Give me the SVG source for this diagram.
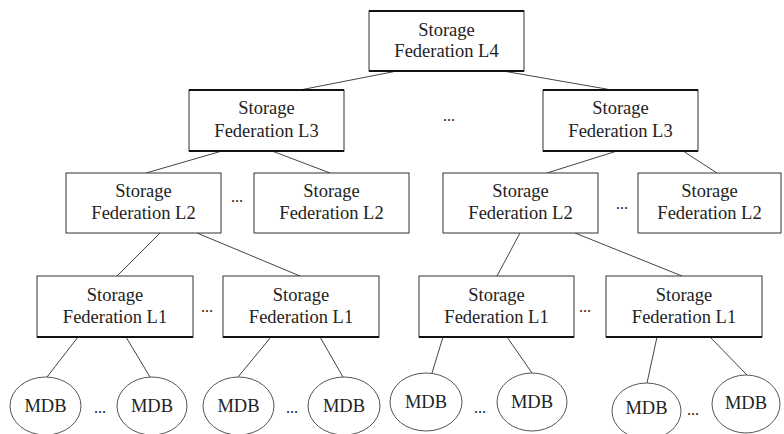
<svg xmlns="http://www.w3.org/2000/svg" width="784" height="434" viewBox="0 0 784 434">
<style>
.box{fill:#fff;stroke:#333;stroke-width:1}
.edge{stroke:#111;stroke-width:2}
.db{fill:#fff;stroke:#555;stroke-width:1}
.t{font-family:'Liberation Serif','Times New Roman',Tinos,'DejaVu Serif',serif;font-size:18.5px;fill:#222;text-anchor:middle}
.dots{font-family:'Liberation Serif','Times New Roman',Tinos,'DejaVu Serif',serif;font-size:16px;fill:#222;text-anchor:middle}
.c line{stroke:#444;stroke-width:1}
</style>
<rect width="784" height="434" fill="#fff"/>
<g class="c" id="connectors">
<line x1="397" y1="71" x2="300" y2="90"/>
<line x1="503" y1="71" x2="612" y2="90"/>
<line x1="222" y1="151" x2="146" y2="173"/>
<line x1="272" y1="151" x2="330" y2="173"/>
<line x1="617" y1="151" x2="547" y2="173"/>
<line x1="683" y1="151" x2="717" y2="173"/>
<line x1="160" y1="233" x2="117" y2="276"/>
<line x1="197" y1="233" x2="300" y2="276"/>
<line x1="520" y1="233" x2="497" y2="276"/>
<line x1="575" y1="233" x2="682" y2="276"/>
<line x1="78" y1="337" x2="47" y2="377"/>
<line x1="126" y1="337" x2="150" y2="377"/>
<line x1="271" y1="337" x2="238" y2="377"/>
<line x1="320" y1="337" x2="343" y2="377"/>
<line x1="443" y1="337" x2="432" y2="373"/>
<line x1="507" y1="337" x2="532" y2="373"/>
<line x1="657" y1="337" x2="647" y2="383"/>
<line x1="710" y1="337" x2="747" y2="375"/>
</g>
<g id="l4">
<rect class="box" x="369" y="11" width="155" height="60"/>
<line class="edge" x1="369" y1="11" x2="524" y2="11"/><line class="edge" x1="369" y1="71" x2="524" y2="71"/>
<text class="t" x="446.5" y="36">Storage</text><text class="t" x="446.5" y="57">Federation L4</text>
</g>
<g id="l3a">
<rect class="box" x="189" y="90" width="155" height="61"/>
<line class="edge" x1="189" y1="90" x2="344" y2="90"/><line class="edge" x1="189" y1="151" x2="344" y2="151"/>
<text class="t" x="266.5" y="114">Storage</text><text class="t" x="266.5" y="137">Federation L3</text>
</g>
<g id="l3b">
<rect class="box" x="543" y="90" width="155" height="61"/>
<line class="edge" x1="543" y1="90" x2="698" y2="90"/><line class="edge" x1="543" y1="151" x2="698" y2="151"/>
<text class="t" x="620.5" y="114">Storage</text><text class="t" x="620.5" y="137">Federation L3</text>
</g>
<text class="dots" x="449" y="121">...</text>
<g id="l2a">
<rect class="box" x="66" y="173" width="155" height="60"/>
<text class="t" x="143.5" y="197">Storage</text><text class="t" x="143.5" y="219">Federation L2</text>
</g>
<g id="l2b">
<rect class="box" x="254" y="173" width="155" height="60"/>
<text class="t" x="331.5" y="197">Storage</text><text class="t" x="331.5" y="219">Federation L2</text>
</g>
<text class="dots" x="237" y="202">...</text>
<g id="l2c">
<rect class="box" x="443" y="173" width="155" height="60"/>
<text class="t" x="520.5" y="197">Storage</text><text class="t" x="520.5" y="219">Federation L2</text>
</g>
<g id="l2d">
<rect class="box" x="638" y="173" width="143" height="60"/>
<text class="t" x="709.5" y="197">Storage</text><text class="t" x="709.5" y="219">Federation L2</text>
</g>
<text class="dots" x="622" y="209">...</text>
<g id="l1a">
<rect class="box" x="37" y="276" width="156" height="61"/>
<line class="edge" x1="37" y1="337" x2="193" y2="337"/>
<text class="t" x="115" y="301">Storage</text><text class="t" x="115" y="323">Federation L1</text>
</g>
<g id="l1b">
<rect class="box" x="223" y="276" width="156" height="61"/>
<line class="edge" x1="223" y1="337" x2="379" y2="337"/>
<text class="t" x="301" y="301">Storage</text><text class="t" x="301" y="323">Federation L1</text>
</g>
<text class="dots" x="207" y="312">...</text>
<g id="l1c">
<rect class="box" x="419" y="276" width="155" height="61"/>
<line class="edge" x1="419" y1="337" x2="574" y2="337"/>
<text class="t" x="496.5" y="301">Storage</text><text class="t" x="496.5" y="323">Federation L1</text>
</g>
<g id="l1d">
<rect class="box" x="606" y="276" width="156" height="61"/>
<line class="edge" x1="606" y1="337" x2="762" y2="337"/>
<text class="t" x="684" y="301">Storage</text><text class="t" x="684" y="323">Federation L1</text>
</g>
<text class="dots" x="585" y="312">...</text>
<g id="mdb1"><ellipse class="db" cx="45.5" cy="406" rx="35.5" ry="29"/><text class="t" x="45.5" y="412">MDB</text></g>
<g id="mdb2"><ellipse class="db" cx="152" cy="406" rx="35" ry="29"/><text class="t" x="152" y="412">MDB</text></g>
<text class="dots" x="100" y="413">...</text>
<g id="mdb3"><ellipse class="db" cx="238.5" cy="406" rx="35.5" ry="29"/><text class="t" x="238.5" y="412">MDB</text></g>
<g id="mdb4"><ellipse class="db" cx="344" cy="406" rx="36" ry="29"/><text class="t" x="344" y="412">MDB</text></g>
<text class="dots" x="292" y="413">...</text>
<g id="mdb5"><ellipse class="db" cx="426" cy="402" rx="36" ry="29"/><text class="t" x="426" y="408">MDB</text></g>
<g id="mdb6"><ellipse class="db" cx="532" cy="402" rx="35" ry="29"/><text class="t" x="532" y="408">MDB</text></g>
<text class="dots" x="480" y="413">...</text>
<g id="mdb7"><ellipse class="db" cx="646.5" cy="411" rx="34.5" ry="28"/><text class="t" x="646.5" y="414">MDB</text></g>
<g id="mdb8"><ellipse class="db" cx="746" cy="404" rx="34" ry="29"/><text class="t" x="746" y="409">MDB</text></g>
<text class="dots" x="693" y="415">...</text>
</svg>
